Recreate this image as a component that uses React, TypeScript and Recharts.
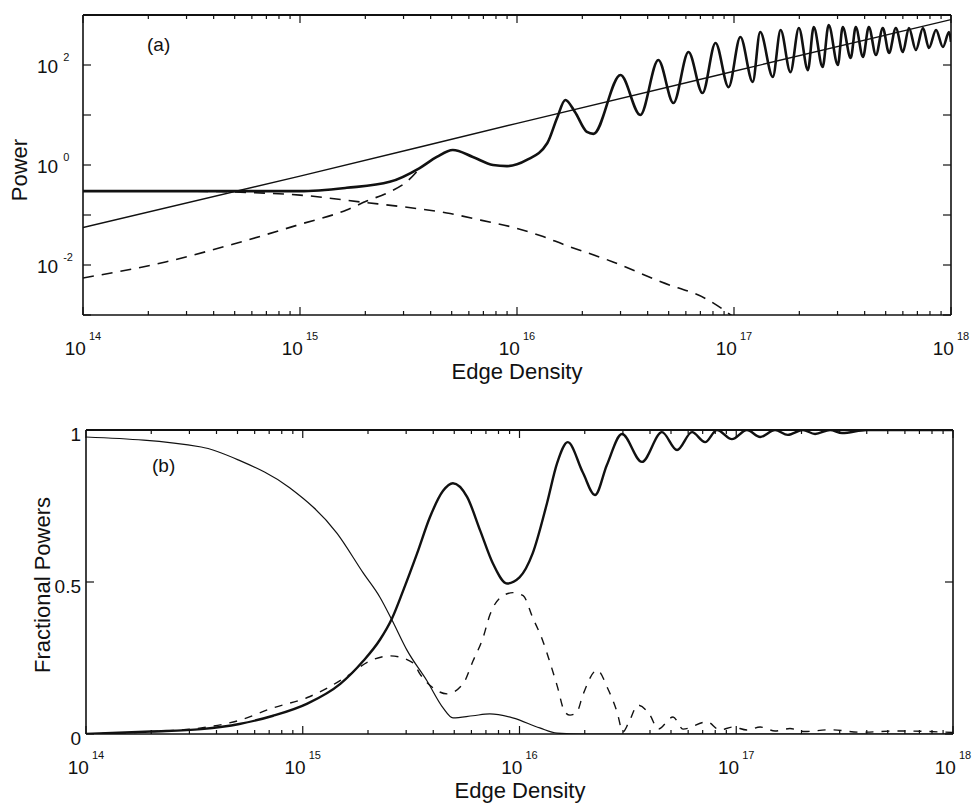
import React from "react";
import { Label, Line, LineChart, ReferenceLine, XAxis, YAxis } from "recharts";

const FONT = '"Liberation Sans", Arial, Helvetica, sans-serif';
const INK = "#111";

// axis ticks
const densityDecades = [1e14, 1e15, 1e16, 1e17, 1e18];
const densityExponents = ["14", "15", "16", "17", "18"];
const minorMultipliers = [2, 3, 4, 5, 6, 7, 8, 9];
const powerDecades = [1e-3, 1e-2, 1e-1, 1, 10, 100, 1e3];
const powerLabelled = [1e-2, 1, 100];
const powerExponents = ["-2", "0", "2"];
const fractionTicks = [0, 0.5, 1];
const fractionLabels = ["0", "0.5", "1"];

// (a) power vs edge density
const fitDensity = [1e14, 1e15, 1e16, 1e17, 1e18];
const fitPower = [0.056, 0.6, 6.8, 75, 810];

const totalDensity = [
  1e14, 5e14, 1e15, 1.64e15, 2.59e15, 3.56e15, 4.27e15, 5.06e15, 6.26e15,
  7.75e15, 8.99e15, 1.11e16, 1.38e16, 1.53e16, 1.67e16, 1.85e16, 2.1e16, 2.25e16,
  3.0e16, 3.7e16, 4.48e16, 5.26e16, 6.17e16, 7.16e16, 8.22e16, 9.44e16,
  1.07e17, 1.22e17, 1.32e17, 1.51e17, 1.64e17, 1.82e17, 1.99e17, 2.19e17,
  2.33e17, 2.56e17, 2.73e17, 3.01e17, 3.17e17, 3.45e17, 3.64e17, 3.93e17,
  4.18e17, 4.51e17, 4.85e17, 5.18e17, 5.57e17, 6.0e17, 6.4e17, 6.89e17,
  7.43e17, 7.91e17, 8.53e17, 9.18e17, 9.8e17, 1e18,
];
const totalPower = [
  0.3, 0.3, 0.3, 0.35, 0.46, 0.87, 1.45, 2.0, 1.45,
  1.0, 0.95, 1.26, 2.75, 8.7, 20, 11.5, 4.6, 4.2,
  63, 10, 126, 17.4, 182, 27.5, 275, 36,
  363, 46, 457, 58, 500, 72, 550, 79,
  575, 91, 630, 100, 575, 138, 575, 145,
  575, 158, 550, 174, 550, 182, 550, 200,
  550, 219, 500, 229, 457, 290,
];

const mode1Density = [
  1e14, 3e14, 6e14, 1e15, 1.95e15, 3.3e15, 4.75e15, 6.8e15, 1e16, 1.32e16,
  1.63e16, 2.77e16, 4.6e16, 7.6e16, 1e17,
];
const mode1Power = [
  0.3, 0.3, 0.28, 0.25, 0.18, 0.138, 0.11, 0.079, 0.054, 0.037,
  0.026, 0.0115, 0.0046, 0.002, 0.0009,
];

const mode2Density = [1e14, 2.4e14, 4.9e14, 1e15, 1.64e15, 2.03e15, 2.59e15, 3.1e15, 3.56e15];
const mode2Power = [0.0055, 0.0115, 0.026, 0.065, 0.126, 0.19, 0.29, 0.46, 0.85];

// (b) fractional powers vs edge density
const frac1Density = [
  1e14, 3.4e14, 5.1e14, 8.7e14, 1.44e15, 1.9e15, 2.27e15, 2.58e15, 3.03e15,
  3.74e15, 4.44e15, 4.93e15, 6.1e15, 7.3e15, 9.3e15, 1.24e16, 1.49e16, 2e16, 1e18,
];
const frac1Value = [
  0.977, 0.944, 0.9, 0.81, 0.66, 0.53, 0.45, 0.375, 0.275,
  0.175, 0.086, 0.053, 0.06, 0.066, 0.053, 0.02, 0.003, 0, 0,
];

const frac2Density = [
  1e14, 2e14, 3.4e14, 5.1e14, 7.3e14, 1.05e15, 1.49e15, 1.9e15, 2.27e15, 2.58e15,
  2.9e15, 3.37e15, 3.86e15, 4.44e15, 4.93e15, 5.73e15, 6.58e15, 7.55e15, 8.75e15,
  1.0e16, 1.15e16, 1.34e16, 1.49e16, 1.67e16, 1.96e16, 2.23e16, 2.53e16, 2.97e16,
  3.67e16, 4.54e16, 5.33e16, 6.25e16, 7.18e16, 8.15e16, 9.55e16, 1.12e17, 1.29e17,
  1.51e17, 1.73e17, 2.03e17, 2.31e17, 2.71e17, 3.08e17, 4e17, 1e18,
];
const frac2Value = [
  0, 0.008, 0.016, 0.033, 0.06, 0.1, 0.165, 0.24, 0.31, 0.38,
  0.47, 0.594, 0.713, 0.8, 0.825, 0.78, 0.67, 0.56, 0.495,
  0.515, 0.594, 0.76, 0.89, 0.96, 0.86, 0.786, 0.885, 0.987,
  0.895, 0.993, 0.934, 0.993, 0.96, 1.0, 0.97, 1.0, 0.977,
  1.0, 0.984, 1.0, 0.987, 1.0, 0.99, 1.0, 1.0,
];

const frac3Density = [
  1e14, 2e14, 3.4e14, 5.1e14, 7.3e14, 1.05e15, 1.29e15, 1.6e15, 2.04e15, 2.53e15,
  3.23e15, 3.47e15, 3.99e15, 4.63e15, 5.49e15, 6.1e15, 6.79e15, 7.31e15, 8.4e15,
  9.33e15, 1.04e16, 1.15e16, 1.28e16, 1.38e16, 1.49e16, 1.62e16, 1.71e16, 1.84e16,
  1.96e16, 2.28e16, 2.56e16, 2.82e16, 3.0e16, 3.17e16, 3.52e16, 4.0e16, 4.36e16,
  5.11e16, 5.68e16, 7.33e16, 8.41e16, 9.66e16, 1.12e17, 1.29e17, 1.51e17, 1.77e17,
  2.07e17, 2.71e17, 3.72e17, 5.7e17, 1e18,
];
const frac3Value = [
  0, 0.008, 0.02, 0.045, 0.086, 0.12, 0.15, 0.19, 0.24, 0.257,
  0.234, 0.198, 0.152, 0.132, 0.165, 0.24, 0.317, 0.393, 0.455,
  0.465, 0.455, 0.383, 0.307, 0.237, 0.16, 0.072, 0.062, 0.072,
  0.128, 0.21, 0.148, 0.072, 0.007, 0.033, 0.095, 0.062, 0.016,
  0.056, 0.016, 0.04, 0.013, 0.023, 0.013, 0.023, 0.01, 0.018,
  0.008, 0.014, 0.006, 0.01, 0.005,
];

const rows = (xs: number[], ys: number[]) => xs.map((n, i) => ({ n, v: ys[i] }));

const densityTicks = [
  ...densityDecades,
  ...densityDecades.slice(0, -1).flatMap((d) => minorMultipliers.map((m) => m * d)),
].sort((a, b) => a - b);

function DensityTick(props: any) {
  const { x, y, payload, plotH } = props;
  const i = densityDecades.findIndex((d) => Math.abs(d / payload.value - 1) < 1e-6);
  const len = i >= 0 ? 8 : 4;
  return (
    <g>
      <line x1={x} y1={y} x2={x} y2={y - len} stroke={INK} strokeWidth={1.2} />
      <line x1={x} y1={y - plotH} x2={x} y2={y - plotH + len} stroke={INK} strokeWidth={1.2} />
      {i >= 0 && (
        <text x={x} y={y + 40} textAnchor="middle" fontSize={19} fontFamily={FONT} fill={INK}>
          10
          <tspan dx={3} dy={-15} fontSize={11}>
            {densityExponents[i]}
          </tspan>
        </text>
      )}
    </g>
  );
}

function PowerTick(props: any) {
  const { x, y, payload, plotW } = props;
  const i = powerLabelled.findIndex((d) => Math.abs(d / payload.value - 1) < 1e-6);
  return (
    <g>
      <line x1={x} y1={y} x2={x + 8} y2={y} stroke={INK} strokeWidth={1.2} />
      <line x1={x + plotW} y1={y} x2={x + plotW - 8} y2={y} stroke={INK} strokeWidth={1.2} />
      {i >= 0 && (
        <text x={37} y={y + 8} textAnchor="start" fontSize={19} fontFamily={FONT} fill={INK}>
          10
          <tspan dx={5} dy={-12} fontSize={11}>
            {powerExponents[i]}
          </tspan>
        </text>
      )}
    </g>
  );
}

function FractionTick(props: any) {
  const { x, y, payload, plotW } = props;
  const i = fractionTicks.indexOf(payload.value);
  return (
    <g>
      <line x1={x} y1={y} x2={x + 8} y2={y} stroke={INK} strokeWidth={1.2} />
      <line x1={x + plotW} y1={y} x2={x + plotW - 8} y2={y} stroke={INK} strokeWidth={1.2} />
      <text x={x - 5} y={y + 11} textAnchor="end" fontSize={19} fontFamily={FONT} fill={INK}>
        {fractionLabels[i]}
      </text>
    </g>
  );
}

const title = (x: number, y: number, text: string, rotate = false) => () => (
  <text
    x={x}
    y={y}
    textAnchor="middle"
    fontSize={22}
    fontFamily={FONT}
    fill={INK}
    transform={rotate ? `rotate(-90 ${x} ${y})` : undefined}
  >
    {text}
  </text>
);

const panelTag = (x: number, y: number, text: string) => () => (
  <text x={x} y={y} fontSize={19} fontFamily={FONT} fill={INK}>
    {text}
  </text>
);

function PowerPanel() {
  const plotW = 868;
  const plotH = 300;
  return (
    <LineChart width={979} height={400} margin={{ top: 15, right: 28, bottom: 0, left: 0 }}>
      <XAxis
        dataKey="n"
        type="number"
        scale="log"
        domain={[1e14, 1e18]}
        allowDataOverflow
        ticks={densityTicks}
        interval={0}
        height={85}
        tickSize={0}
        tickMargin={0}
        tickLine={false}
        axisLine={{ stroke: INK, strokeWidth: 1.6 }}
        tick={(p: any) => <DensityTick {...p} plotH={plotH} />}
      >
        <Label content={title(517, 379, "Edge Density")} />
      </XAxis>
      <YAxis
        dataKey="v"
        type="number"
        scale="log"
        domain={[1e-3, 1e3]}
        allowDataOverflow
        ticks={powerDecades}
        interval={0}
        width={83}
        tickSize={0}
        tickMargin={0}
        tickLine={false}
        axisLine={{ stroke: INK, strokeWidth: 1.6 }}
        tick={(p: any) => <PowerTick {...p} plotW={plotW} />}
      >
        <Label content={title(27, 170, "Power", true)} />
      </YAxis>
      <ReferenceLine y={1e3} stroke={INK} strokeWidth={1.8} label={panelTag(147, 51, "(a)")} />
      <ReferenceLine x={1e18} stroke={INK} strokeWidth={1.6} />
      <Line
        data={rows(mode1Density, mode1Power)}
        dataKey="v"
        type="monotone"
        stroke={INK}
        strokeWidth={1.6}
        strokeDasharray="11 8"
        dot={false}
        activeDot={false}
        isAnimationActive={false}
      />
      <Line
        data={rows(mode2Density, mode2Power)}
        dataKey="v"
        type="monotone"
        stroke={INK}
        strokeWidth={1.6}
        strokeDasharray="11 8"
        dot={false}
        activeDot={false}
        isAnimationActive={false}
      />
      <Line
        data={rows(fitDensity, fitPower)}
        dataKey="v"
        type="monotone"
        stroke={INK}
        strokeWidth={1.4}
        dot={false}
        activeDot={false}
        isAnimationActive={false}
      />
      <Line
        data={rows(totalDensity, totalPower)}
        dataKey="v"
        type="monotone"
        stroke={INK}
        strokeWidth={2.6}
        dot={false}
        activeDot={false}
        isAnimationActive={false}
      />
    </LineChart>
  );
}

function FractionPanel() {
  const plotW = 867;
  const plotH = 304;
  return (
    <LineChart width={979} height={408} margin={{ top: 30, right: 26, bottom: 0, left: 0 }}>
      <XAxis
        dataKey="n"
        type="number"
        scale="log"
        domain={[1e14, 1e18]}
        allowDataOverflow
        ticks={densityTicks}
        interval={0}
        height={74}
        tickSize={0}
        tickMargin={0}
        tickLine={false}
        axisLine={{ stroke: INK, strokeWidth: 1.6 }}
        tick={(p: any) => <DensityTick {...p} plotH={plotH} />}
      >
        <Label content={title(520, 398, "Edge Density")} />
      </XAxis>
      <YAxis
        dataKey="v"
        type="number"
        domain={[0, 1]}
        allowDataOverflow
        ticks={fractionTicks}
        interval={0}
        width={86}
        tickSize={0}
        tickMargin={0}
        tickLine={false}
        axisLine={{ stroke: INK, strokeWidth: 1.6 }}
        tick={(p: any) => <FractionTick {...p} plotW={plotW} />}
      >
        <Label content={title(50, 185, "Fractional Powers", true)} />
      </YAxis>
      <ReferenceLine y={1} stroke={INK} strokeWidth={1.8} label={panelTag(152, 72, "(b)")} />
      <ReferenceLine x={1e18} stroke={INK} strokeWidth={1.6} />
      <Line
        data={rows(frac3Density, frac3Value)}
        dataKey="v"
        type="monotone"
        stroke={INK}
        strokeWidth={1.4}
        strokeDasharray="8 8"
        dot={false}
        activeDot={false}
        isAnimationActive={false}
      />
      <Line
        data={rows(frac1Density, frac1Value)}
        dataKey="v"
        type="monotone"
        stroke={INK}
        strokeWidth={1.2}
        dot={false}
        activeDot={false}
        isAnimationActive={false}
      />
      <Line
        data={rows(frac2Density, frac2Value)}
        dataKey="v"
        type="monotone"
        stroke={INK}
        strokeWidth={2.4}
        dot={false}
        activeDot={false}
        isAnimationActive={false}
      />
    </LineChart>
  );
}

export default function App() {
  return (
    <div style={{ position: "absolute", left: 0, top: 0, width: 979, height: 808, background: "#fff" }}>
      <div style={{ position: "absolute", left: 0, top: 0 }}>
        <PowerPanel />
      </div>
      <div style={{ position: "absolute", left: 0, top: 400 }}>
        <FractionPanel />
      </div>
    </div>
  );
}
